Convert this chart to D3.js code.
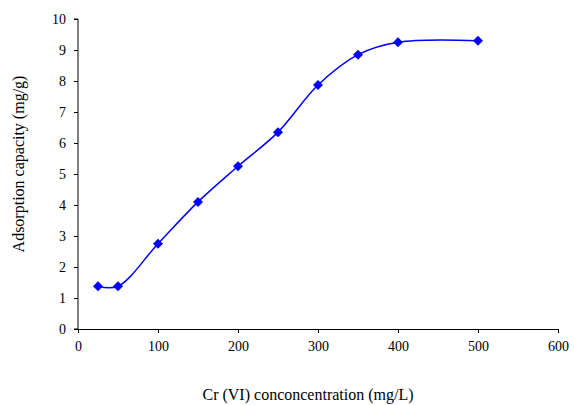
<!DOCTYPE html>
<html><head><meta charset="utf-8">
<script src="https://cdn.jsdelivr.net/npm/d3@7"></script>
<style>body{margin:0;background:#fff}text{font-family:"Liberation Serif",serif}</style>
</head><body><div id="chart"></div>
<script>
const concentration = [25, 50, 100, 150, 200, 250, 300, 350, 400, 500];
const capacity = [1.38, 1.38, 2.75, 4.1, 5.25, 6.35, 7.87, 8.85, 9.25, 9.3];
const xTicks = [0, 100, 200, 300, 400, 500, 600];
const yTicks = [0, 1, 2, 3, 4, 5, 6, 7, 8, 9, 10];

const width = 575, height = 405;
const margin = { top: 19, right: 17, bottom: 76, left: 78 };
const innerWidth = width - margin.left - margin.right;
const innerHeight = height - margin.top - margin.bottom;

const svg = d3.select("#chart").append("svg")
  .attr("width", width).attr("height", height);

const x = d3.scaleLinear().domain([0, 600]).range([0, innerWidth]);
const y = d3.scaleLinear().domain([0, 10]).range([innerHeight, 0]);

const g = svg.append("g").attr("transform", `translate(${margin.left},${margin.top})`);

const yAxis = g.append("g").call(d3.axisLeft(y).tickValues(yTicks).tickSize(4).tickPadding(8));
const xAxis = g.append("g").attr("transform", `translate(0,${innerHeight})`)
  .call(d3.axisBottom(x).tickValues(xTicks).tickSize(4).tickPadding(8));
[xAxis, yAxis].forEach(a => {
  a.selectAll("text").style("font-size", "14px").style("font-family", "Liberation Serif").attr("fill", "#000");
  a.selectAll("path,line").attr("stroke", "#000");
});
yAxis.select(".domain").attr("d", `M-4,${innerHeight}H0V0H-4`);

const pts = concentration.map((c, i) => [c, capacity[i]]);
g.append("path").datum(pts)
  .attr("fill", "none").attr("stroke", "#0000ff").attr("stroke-width", 1.5)
  .attr("d", d3.line().x(d => x(d[0])).y(d => y(d[1])).curve(d3.curveCatmullRom.alpha(0.5)));

g.selectAll(".pt").data(pts).join("path")
  .attr("transform", d => `translate(${x(d[0])},${y(d[1])})`)
  .attr("d", "M0,-5L5,0L0,5L-5,0Z").attr("fill", "#0000ff");

svg.append("text").attr("x", margin.left + innerWidth / 2 - 10).attr("y", 400)
  .attr("text-anchor", "middle").style("font-size", "16px")
  .text("Cr (VI) conconcentration (mg/L)");
svg.append("text").attr("transform", `translate(24,${margin.top + innerHeight / 2 - 10}) rotate(-90)`)
  .attr("text-anchor", "middle").style("font-size", "16px")
  .text("Adsorption capacity  (mg/g)");
</script></body></html>
